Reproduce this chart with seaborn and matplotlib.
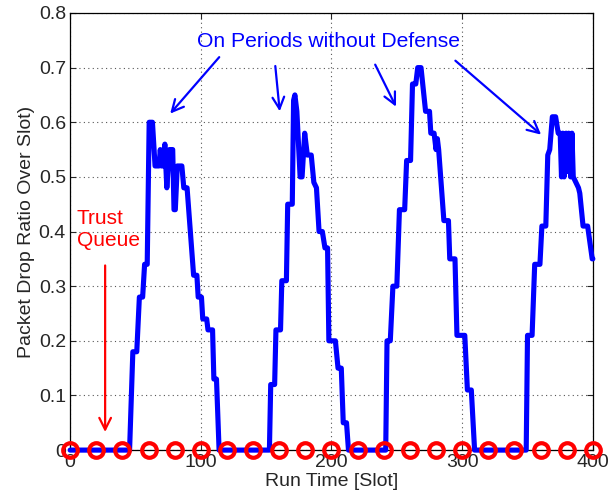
import numpy as np
import pandas as pd
import matplotlib
matplotlib.use('Agg')
import matplotlib.pyplot as plt
import seaborn as sns

# blue curve: packet drop ratio without defense
plain_x = [0, 45.5, 48, 51, 53, 55.5, 57, 59, 60.5, 63, 65, 68, 69, 70, 71, 72.5, 74, 76, 78.5, 79.5,
           80.5, 82, 85.5, 87, 89.5, 94.5, 97, 98, 100.5, 101.5, 104.5, 105.5, 109, 110, 112, 114,
           152.5, 153.5, 156.5, 157.5, 161, 162, 165.5, 166.5, 170, 171, 172, 173.5, 176, 177.5, 179.5,
           181.5, 184.5, 186.5, 188.5, 190.5, 193, 195, 197, 198, 203, 205, 207.5, 209, 211.5, 213,
           241.5, 242.5, 245, 247, 250, 252, 256, 257.5, 260.5, 262, 264.5, 266, 268.5, 272, 275, 276,
           278.5, 280, 281, 282, 286, 289.5, 290.5, 294.5, 296, 302, 304, 307, 309.5,
           349, 350, 353.5, 355.5, 359.5, 361, 364, 365.5, 367, 369, 371.5, 373.5, 375, 376, 377, 378,
           379.5, 380.5, 381.5, 383, 384, 385, 387, 389, 390, 392.5, 396, 399.5, 400]
plain_y = [0, 0, 0.18, 0.18, 0.28, 0.28, 0.34, 0.34, 0.60, 0.60, 0.52, 0.52, 0.55, 0.52, 0.52, 0.56, 0.48, 0.55, 0.55, 0.44,
           0.44, 0.52, 0.52, 0.48, 0.48, 0.32, 0.32, 0.28, 0.28, 0.24, 0.24, 0.22, 0.22, 0.13, 0.13, 0,
           0, 0.12, 0.12, 0.22, 0.22, 0.31, 0.31, 0.45, 0.45, 0.64, 0.65, 0.62, 0.50, 0.50, 0.58,
           0.54, 0.54, 0.49, 0.48, 0.40, 0.40, 0.37, 0.37, 0.20, 0.20, 0.15, 0.15, 0.05, 0.05, 0,
           0, 0.20, 0.20, 0.30, 0.30, 0.44, 0.44, 0.53, 0.53, 0.67, 0.67, 0.70, 0.70, 0.62, 0.62, 0.58,
           0.58, 0.55, 0.57, 0.55, 0.42, 0.42, 0.35, 0.35, 0.21, 0.21, 0.11, 0.11, 0,
           0, 0.21, 0.21, 0.34, 0.34, 0.41, 0.41, 0.54, 0.55, 0.61, 0.61, 0.58, 0.58, 0.50, 0.58, 0.50,
           0.58, 0.51, 0.58, 0.50, 0.58, 0.50, 0.49, 0.48, 0.47, 0.41, 0.41, 0.35, 0.35]

# red curve: trust queue (zero everywhere), marker every 20 slots
trust_x = list(range(0, 401, 20))
trust_y = [0] * len(trust_x)

sns.set_style('ticks')
plt.rcParams['font.family'] = ['Liberation Sans', 'DejaVu Sans']
plt.rcParams['font.size'] = 14

fig = plt.figure(figsize=(6.15, 4.99), dpi=100)
ax = fig.add_axes([0.114, 0.098, 0.85, 0.876])

# red dashed line sits under the blue one, the circles go on top
sns.lineplot(x=trust_x, y=trust_y, ax=ax, color='#ff6060', lw=0.8, ls='--',
             sort=False, estimator=None, clip_on=False, zorder=2)
sns.lineplot(x=plain_x, y=plain_y, ax=ax, color='#0000ff', lw=3.7, sort=False,
             estimator=None, clip_on=False, zorder=3)
sns.lineplot(x=trust_x, y=trust_y, ax=ax, color='red', lw=0, marker='o', markersize=10.5,
             markerfacecolor='none', markeredgecolor='red', markeredgewidth=3.0,
             sort=False, estimator=None, clip_on=False, zorder=4)

ax.set_xlim(0, 400)
ax.set_ylim(0, 0.8)
ax.set_xticks([0, 100, 200, 300, 400])
ax.set_yticks(np.arange(0, 0.81, 0.1))
ax.set_yticklabels(['0', '0.1', '0.2', '0.3', '0.4', '0.5', '0.6', '0.7', '0.8'])
ax.grid(True, ls=(0, (1, 3)), color='#555555', lw=0.8)
ax.tick_params(direction='in', top=True, right=True, length=4, labelsize=14, pad=3)
for s in ax.spines.values():
    s.set_linewidth(0.9)
    s.set_color('black')
ax.set_xlabel('Run Time [Slot]', fontsize=14, labelpad=1)
ax.set_ylabel('Packet Drop Ratio Over Slot)', fontsize=14, labelpad=3)

ax.text(198, 0.748, 'On Periods without Defense', color='#0000ff', fontsize=15.2,
        ha='center', va='center')
arr = dict(arrowstyle='->,head_length=0.6,head_width=0.3', color='#0000ff', lw=1.6)
for (sx, sy), (ex, ey) in [((115.5, 0.723), (75.2, 0.612)), ((156.8, 0.708), (160.6, 0.615)),
                           ((232.5, 0.710), (250.3, 0.624)), ((293.2, 0.716), (362.0, 0.574))]:
    ax.annotate('', xy=(ex, ey), xytext=(sx, sy), arrowprops=arr)

ax.text(5.1, 0.442, 'Trust\nQueue', color='red', fontsize=15, ha='left', va='top', linespacing=1.2)
ax.annotate('', xy=(26.8, 0.028), xytext=(26.8, 0.343),
            arrowprops=dict(arrowstyle='->,head_length=0.6,head_width=0.3', color='red', lw=1.6))

fig.savefig('out.png', dpi=100)
